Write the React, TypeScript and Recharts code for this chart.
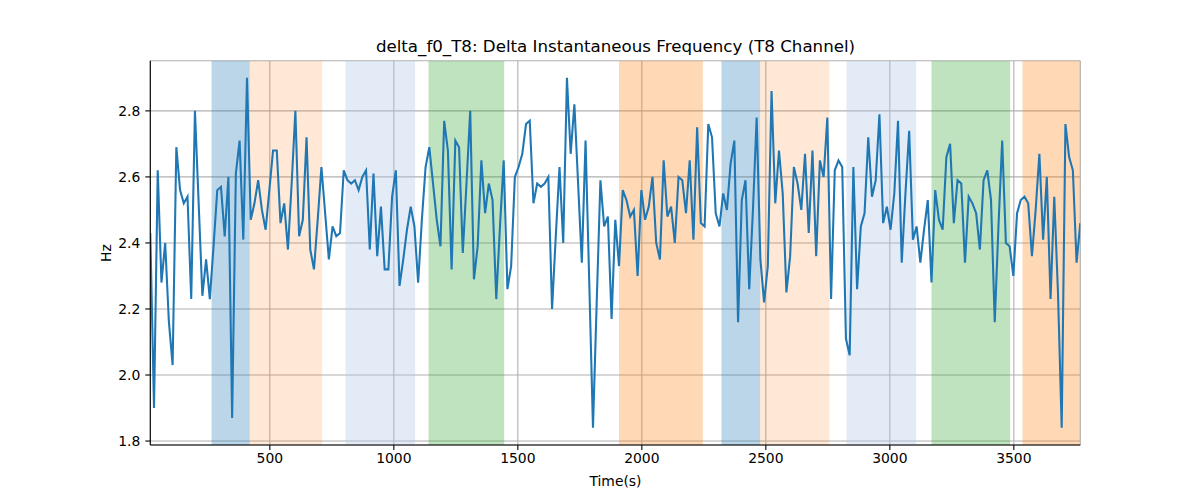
import React from 'react';
import { LineChart, Line, XAxis, YAxis, CartesianGrid, ReferenceArea } from 'recharts';

const T0 = 18;
const DT = 15;

const values: number[] = [
  2.43, 1.90, 2.62, 2.28, 2.40, 2.16, 2.03, 2.69, 2.56, 2.52,
  2.54, 2.23, 2.80, 2.52, 2.24, 2.35, 2.23, 2.39, 2.56, 2.57,
  2.42, 2.60, 1.87, 2.61, 2.71, 2.41, 2.90, 2.47, 2.52, 2.59,
  2.50, 2.44, 2.56, 2.68, 2.68, 2.46, 2.52, 2.38, 2.58, 2.80,
  2.42, 2.47, 2.72, 2.38, 2.32, 2.47, 2.63, 2.49, 2.35, 2.45,
  2.42, 2.43, 2.62, 2.59, 2.58, 2.59, 2.56, 2.60, 2.62, 2.38,
  2.61, 2.36, 2.51, 2.32, 2.32, 2.54, 2.62, 2.27, 2.35, 2.44,
  2.51, 2.45, 2.28, 2.47, 2.63, 2.69, 2.58, 2.47, 2.39, 2.77,
  2.68, 2.32, 2.71, 2.69, 2.37, 2.58, 2.80, 2.29, 2.39, 2.65,
  2.49, 2.58, 2.53, 2.23, 2.45, 2.65, 2.26, 2.33, 2.60, 2.63,
  2.67, 2.76, 2.77, 2.52, 2.58, 2.57, 2.58, 2.60, 2.20, 2.42,
  2.63, 2.40, 2.90, 2.67, 2.82, 2.58, 2.34, 2.71, 2.28, 1.84,
  2.22, 2.59, 2.45, 2.48, 2.17, 2.47, 2.33, 2.56, 2.53, 2.48,
  2.50, 2.30, 2.56, 2.47, 2.51, 2.60, 2.40, 2.35, 2.65, 2.48,
  2.51, 2.40, 2.60, 2.59, 2.49, 2.65, 2.41, 2.75, 2.46, 2.45,
  2.76, 2.72, 2.49, 2.45, 2.55, 2.50, 2.64, 2.71, 2.16, 2.53,
  2.59, 2.26, 2.50, 2.78, 2.35, 2.22, 2.33, 2.86, 2.52, 2.68,
  2.55, 2.25, 2.36, 2.63, 2.58, 2.50, 2.67, 2.43, 2.68, 2.36,
  2.65, 2.60, 2.78, 2.23, 2.62, 2.65, 2.63, 2.11, 2.06, 2.63,
  2.26, 2.45, 2.49, 2.72, 2.54, 2.59, 2.79, 2.46, 2.51, 2.44,
  2.55, 2.77, 2.34, 2.55, 2.74, 2.41, 2.45, 2.34, 2.44, 2.53,
  2.28, 2.56, 2.47, 2.44, 2.66, 2.70, 2.46, 2.59, 2.58, 2.34,
  2.54, 2.52, 2.49, 2.38, 2.59, 2.62, 2.53, 2.16, 2.45, 2.71,
  2.40, 2.39, 2.30, 2.49, 2.53, 2.54, 2.52, 2.36, 2.50, 2.67,
  2.41, 2.60, 2.23, 2.54, 2.25, 1.84, 2.76, 2.66, 2.62, 2.34,
  2.46,
];

const bandStart = [265, 419, 805, 1140, 1908, 2321, 2477, 2825, 3168, 3535];
const bandEnd = [419, 711, 1086, 1445, 2246, 2477, 2756, 3106, 3485, 3768];
const bandColor = ['#1f77b4', '#ff7f0e', '#aec7e8', '#2ca02c', '#ff7f0e', '#1f77b4', '#ff7f0e', '#aec7e8', '#2ca02c', '#ff7f0e'];
const bandAlpha = [0.3, 0.17, 0.35, 0.3, 0.3, 0.3, 0.17, 0.35, 0.3, 0.3];

const xTicks = [500, 1000, 1500, 2000, 2500, 3000, 3500];
const yTicks = [1.8, 2.0, 2.2, 2.4, 2.6, 2.8];

const data = values.map((v, i) => ({ t: T0 + DT * i, v }));

const FONT = '"DejaVu Sans", sans-serif';
const tickStyle = { fontSize: 13.9, fill: '#000', fontFamily: FONT };

export default function App() {
  const xMin = T0;
  const xMax = T0 + DT * (values.length - 1);
  return (
    <div style={{ position: 'absolute', left: 0, top: 0, width: 1200, height: 500, background: '#fff' }}>
      <LineChart
        width={1200}
        height={500}
        data={data}
        margin={{ top: 60.7, right: 119.7, bottom: 25, left: 90.3 }}
      >
        <CartesianGrid stroke="#b0b0b0" strokeWidth={1.1} />
        {bandStart.map((s, i) => (
          <ReferenceArea
            key={i}
            x1={s}
            x2={bandEnd[i]}
            fill={bandColor[i]}
            fillOpacity={bandAlpha[i]}
            stroke="none"
            ifOverflow="hidden"
          />
        ))}
        <XAxis
          dataKey="t"
          type="number"
          domain={[xMin, xMax]}
          ticks={xTicks}
          height={30}
          tick={tickStyle}
          tickSize={5}
          tickMargin={3}
          stroke="#000"
          axisLine={{ stroke: '#000', strokeWidth: 1.1 }}
          tickLine={{ stroke: '#000', strokeWidth: 1.1 }}
          allowDataOverflow
        />
        <XAxis
          xAxisId="top"
          orientation="top"
          dataKey="t"
          type="number"
          domain={[xMin, xMax]}
          height={0}
          tick={false}
          tickLine={false}
          axisLine={{ stroke: '#000', strokeWidth: 1.1 }}
        />
        <YAxis
          type="number"
          domain={[1.788, 2.952]}
          ticks={yTicks}
          width={60}
          tick={tickStyle}
          tickSize={5}
          tickMargin={5}
          tickFormatter={(v: number) => v.toFixed(1)}
          axisLine={{ stroke: '#000', strokeWidth: 1.1 }}
          tickLine={{ stroke: '#000', strokeWidth: 1.1 }}
          allowDataOverflow
        />
        <YAxis
          yAxisId="right"
          orientation="right"
          type="number"
          domain={[1.788, 2.952]}
          width={0}
          tick={false}
          tickLine={false}
          axisLine={{ stroke: '#000', strokeWidth: 1.1 }}
        />
        <Line
          type="linear"
          dataKey="v"
          stroke="#1f77b4"
          strokeWidth={2.08}
          dot={false}
          activeDot={false}
          isAnimationActive={false}
        />
      </LineChart>
      <div
        style={{
          position: 'absolute', left: 0, width: 1231, top: 36.5, textAlign: 'center',
          fontFamily: FONT, fontSize: 16.67, lineHeight: 'normal', color: '#000', whiteSpace: 'nowrap',
        }}
      >
        delta_f0_T8: Delta Instantaneous Frequency (T8 Channel)
      </div>
      <div
        style={{
          position: 'absolute', left: 0, width: 1231, top: 473.1, textAlign: 'center',
          fontFamily: FONT, fontSize: 13.9, lineHeight: 'normal', color: '#000', whiteSpace: 'nowrap',
        }}
      >
        Time(s)
      </div>
      <div
        style={{
          position: 'absolute', left: 86, width: 40, top: 245, height: 16, textAlign: 'center',
          fontFamily: FONT, fontSize: 13.9, lineHeight: '16px', color: '#000', whiteSpace: 'nowrap',
          transform: 'rotate(-90deg)', transformOrigin: '50% 50%',
        }}
      >
        Hz
      </div>
    </div>
  );
}
